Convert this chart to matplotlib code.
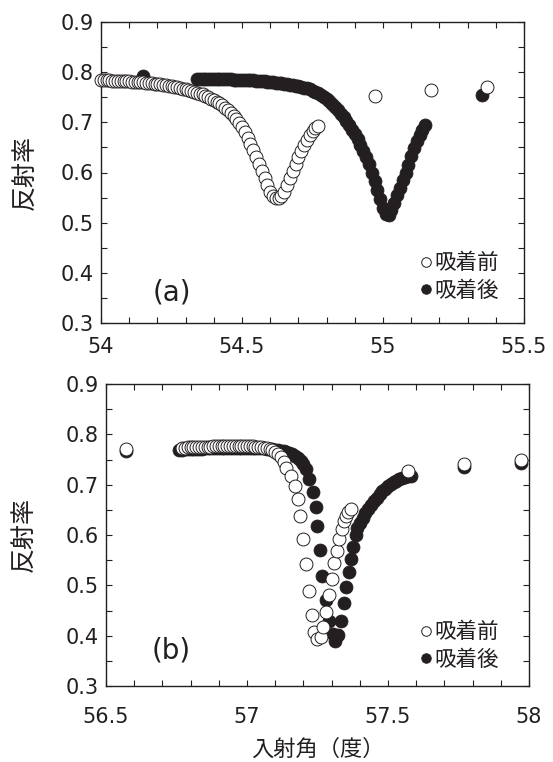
import matplotlib
matplotlib.use("Agg")
import matplotlib.pyplot as plt
from matplotlib.ticker import MultipleLocator

plt.rcParams['font.family'] = ['DejaVu Sans', 'Noto Sans CJK JP']

INK = '#231f20'

# ---------------- panel (a) data ----------------
a_before_x = [54.00, 54.01, 54.02, 54.03, 54.04, 54.05, 54.06, 54.07, 54.08, 54.09,
              54.10, 54.11, 54.12, 54.13, 54.14, 54.15, 54.16, 54.17, 54.18, 54.19,
              54.20, 54.21, 54.22, 54.23, 54.24, 54.25, 54.26, 54.27, 54.28, 54.29,
              54.30, 54.31, 54.32, 54.33, 54.34, 54.35, 54.36, 54.37, 54.38, 54.39,
              54.40, 54.41, 54.42, 54.43, 54.44, 54.45, 54.46, 54.47, 54.48, 54.49,
              54.50, 54.51, 54.52, 54.53, 54.54, 54.55, 54.56, 54.57, 54.58, 54.59,
              54.60, 54.61, 54.62, 54.63, 54.64, 54.65, 54.66, 54.67, 54.68, 54.69,
              54.70, 54.71, 54.72, 54.73, 54.74, 54.75, 54.76, 54.77,
              54.97, 55.17, 55.37]
a_before_y = [0.784, 0.784, 0.784, 0.784, 0.783, 0.783, 0.783, 0.783, 0.782, 0.782,
              0.782, 0.781, 0.781, 0.781, 0.780, 0.780, 0.779, 0.779, 0.778, 0.777,
              0.777, 0.776, 0.775, 0.774, 0.773, 0.772, 0.771, 0.770, 0.769, 0.767,
              0.766, 0.764, 0.762, 0.760, 0.758, 0.756, 0.756, 0.753, 0.750, 0.747,
              0.744, 0.741, 0.738, 0.734, 0.729, 0.724, 0.719, 0.713, 0.706, 0.698,
              0.690, 0.680, 0.669, 0.657, 0.644, 0.631, 0.617, 0.603, 0.589, 0.575,
              0.562, 0.553, 0.549, 0.549, 0.554, 0.562, 0.575, 0.589, 0.603, 0.617,
              0.630, 0.643, 0.655, 0.665, 0.674, 0.682, 0.688, 0.692,
              0.753, 0.765, 0.771]

a_after_x = [54.15,
             54.34, 54.35, 54.36, 54.37, 54.38, 54.39, 54.40, 54.41, 54.42, 54.43,
             54.44, 54.45, 54.46, 54.47, 54.48, 54.49, 54.50, 54.51, 54.52, 54.53,
             54.54, 54.55, 54.56, 54.57, 54.58, 54.59, 54.60, 54.61, 54.62, 54.63,
             54.64, 54.65, 54.66, 54.67, 54.68, 54.69, 54.70, 54.71, 54.72, 54.73,
             54.74, 54.75, 54.76, 54.77, 54.78, 54.79, 54.80, 54.81, 54.82, 54.83,
             54.84, 54.85, 54.86, 54.87, 54.88, 54.89, 54.90, 54.91, 54.92, 54.93,
             54.94, 54.95, 54.96, 54.97, 54.98, 54.99, 55.00, 55.01, 55.02, 55.03,
             55.04, 55.05, 55.06, 55.07, 55.08, 55.09, 55.10, 55.11, 55.12, 55.13,
             55.14, 55.15,
             55.35]
a_after_y = [0.792,
             0.787, 0.787, 0.787, 0.787, 0.787, 0.787, 0.787, 0.786, 0.786, 0.786,
             0.786, 0.786, 0.786, 0.785, 0.785, 0.785, 0.785, 0.784, 0.784, 0.784,
             0.784, 0.783, 0.783, 0.782, 0.782, 0.781, 0.781, 0.780, 0.779, 0.779,
             0.778, 0.777, 0.776, 0.775, 0.774, 0.773, 0.772, 0.771, 0.769, 0.768,
             0.766, 0.763, 0.761, 0.758, 0.755, 0.751, 0.747, 0.742, 0.736, 0.730,
             0.724, 0.717, 0.710, 0.702, 0.694, 0.685, 0.676, 0.666, 0.655, 0.643,
             0.631, 0.616, 0.600, 0.584, 0.566, 0.547, 0.530, 0.518, 0.516, 0.525,
             0.540, 0.555, 0.570, 0.585, 0.600, 0.615, 0.633, 0.648, 0.662, 0.674,
             0.685, 0.694,
             0.754]

# ---------------- panel (b) data ----------------
b_before_x = [56.57,
              56.77, 56.78, 56.79, 56.80, 56.81, 56.82, 56.83, 56.84, 56.85, 56.86,
              56.87, 56.88, 56.89, 56.90, 56.91, 56.92, 56.93, 56.94, 56.95, 56.96,
              56.97, 56.98, 56.99, 57.00, 57.01, 57.02, 57.03, 57.04, 57.05, 57.06,
              57.07, 57.08, 57.09, 57.10, 57.11, 57.12, 57.13,
              57.140, 57.155, 57.171, 57.180, 57.189, 57.199, 57.210, 57.220, 57.230,
              57.238, 57.249, 57.261, 57.270, 57.280, 57.290, 57.301, 57.309, 57.320,
              57.327, 57.336, 57.343, 57.350, 57.359, 57.370,
              57.57, 57.77, 57.97]
b_before_y = [0.771,
              0.773, 0.773, 0.774, 0.774, 0.774, 0.774, 0.775, 0.775, 0.775, 0.775,
              0.775, 0.776, 0.776, 0.776, 0.776, 0.776, 0.777, 0.777, 0.777, 0.777,
              0.777, 0.777, 0.777, 0.776, 0.776, 0.776, 0.775, 0.775, 0.774, 0.773,
              0.772, 0.770, 0.768, 0.765, 0.760, 0.754, 0.746,
              0.734, 0.718, 0.698, 0.672, 0.637, 0.592, 0.543, 0.489, 0.441,
              0.407, 0.393, 0.397, 0.418, 0.448, 0.480, 0.513, 0.545, 0.569,
              0.592, 0.612, 0.627, 0.638, 0.645, 0.651,
              0.728, 0.742, 0.750]

b_after_x = [56.57,
             56.76, 56.77, 56.78, 56.79, 56.80, 56.81, 56.82, 56.83, 56.84, 56.85,
             56.86, 56.87, 56.88, 56.89, 56.90, 56.91, 56.92, 56.93, 56.94, 56.95,
             56.96, 56.97, 56.98, 56.99, 57.00, 57.01, 57.02, 57.03, 57.04, 57.05,
             57.06, 57.07, 57.08, 57.09, 57.10, 57.11, 57.12, 57.13, 57.14, 57.15,
             57.16, 57.17, 57.18, 57.19, 57.20, 57.21, 57.22,
             57.235, 57.245, 57.250, 57.258, 57.267, 57.279, 57.292, 57.304, 57.312,
             57.324, 57.333, 57.344, 57.351, 57.360, 57.370, 57.377, 57.386,
             57.39, 57.40, 57.41, 57.42, 57.43, 57.44, 57.45, 57.46, 57.47, 57.48,
             57.49, 57.50, 57.51, 57.52, 57.53, 57.54, 57.55, 57.56, 57.57, 57.58,
             57.57, 57.77, 57.97]
b_after_y = [0.766,
             0.769, 0.769, 0.770, 0.770, 0.770, 0.771, 0.771, 0.771, 0.771, 0.772,
             0.772, 0.772, 0.772, 0.772, 0.773, 0.773, 0.773, 0.773, 0.773, 0.773,
             0.773, 0.773, 0.773, 0.773, 0.773, 0.773, 0.773, 0.773, 0.772, 0.772,
             0.772, 0.771, 0.771, 0.770, 0.769, 0.768, 0.767, 0.766, 0.764, 0.762,
             0.760, 0.757, 0.753, 0.748, 0.741, 0.731, 0.712,
             0.686, 0.656, 0.617, 0.570, 0.518, 0.470, 0.430, 0.403, 0.390,
             0.402, 0.430, 0.464, 0.496, 0.527, 0.553, 0.577, 0.600,
             0.614, 0.624, 0.634, 0.643, 0.652, 0.660, 0.667, 0.674, 0.681, 0.687,
             0.692, 0.697, 0.701, 0.705, 0.708, 0.711, 0.713, 0.715, 0.717, 0.718,
             0.722, 0.736, 0.744]

label_before = '吸着前'
label_after = '吸着後'
ylabel = '反射率'
xlabel = '入射角（度）'

a_xticks = [54, 54.5, 55, 55.5]
a_xticklabels = ['54', '54.5', '55', '55.5']
b_xticks = [56.5, 57, 57.5, 58]
b_xticklabels = ['56.5', '57', '57.5', '58']
yticks = [0.3, 0.4, 0.5, 0.6, 0.7, 0.8, 0.9]
yticklabels = ['0.3', '0.4', '0.5', '0.6', '0.7', '0.8', '0.9']

fig = plt.figure(figsize=(5.53, 7.62), dpi=100)
W, H = 553, 762


def px_axes(l, t, r, b):
    return fig.add_axes([l / W, 1 - b / H, (r - l) / W, (b - t) / H])


ax1 = px_axes(101, 22, 524, 323)
ax2 = px_axes(106, 384, 529, 686)

MS = 9.3
cjk = ['Noto Sans CJK JP', 'DejaVu Sans']


def style(ax, xlim, xticks, xticklabels, xpad, ylpad):
    ax.set_xlim(*xlim)
    ax.set_ylim(0.3, 0.9)
    ax.set_xticks(xticks)
    ax.set_xticklabels(xticklabels)
    ax.set_yticks(yticks)
    ax.set_yticklabels(yticklabels)
    ax.xaxis.set_minor_locator(MultipleLocator(0.1))
    ax.yaxis.set_minor_locator(MultipleLocator(0.05))
    ax.tick_params(which='both', direction='in', top=True, right=True,
                   length=4.5, width=0.8, color=INK, labelcolor=INK,
                   labelsize=15)
    ax.tick_params(axis='x', which='major', pad=xpad)
    ax.tick_params(axis='y', which='major', pad=5)
    for s in ax.spines.values():
        s.set_linewidth(1.0)
        s.set_color(INK)
    ax.set_ylabel(ylabel, family=cjk, fontsize=18, color=INK, labelpad=ylpad)


def panel(ax, bx, by, ax_x, ay, tag, tagpos, legpos):
    h_after, = ax.plot(ax_x, ay, 'o', ms=MS, mfc=INK, mec=INK, mew=0.6,
                       label=label_after, clip_on=False, zorder=3)
    h_before, = ax.plot(bx, by, 'o', ms=MS, mfc='white', mec=INK, mew=0.7,
                        label=label_before, clip_on=False, zorder=4)
    ax.text(tagpos[0], tagpos[1], tag, transform=ax.transAxes, fontsize=20,
            color=INK, ha='center', va='center')
    leg = ax.legend([h_before, h_after], [label_before, label_after],
                    loc='center left', bbox_to_anchor=legpos, frameon=False,
                    prop={'family': cjk, 'size': 15.5}, markerscale=0.74,
                    handlelength=0.5, handletextpad=0.15, labelspacing=0.25,
                    borderpad=0, borderaxespad=0)
    for t in leg.get_texts():
        t.set_color(INK)


panel(ax1, a_before_x, a_before_y, a_after_x, a_after_y, '(a)',
      (0.168, 0.101), (0.756, 0.153))
style(ax1, (54, 55.5), a_xticks, a_xticklabels, 10, 16)

panel(ax2, b_before_x, b_before_y, b_after_x, b_after_y, '(b)',
      (0.154, 0.116), (0.744, 0.132))
style(ax2, (56.5, 58), b_xticks, b_xticklabels, 15, 20)
ax2.set_xlabel(xlabel, family=cjk, fontsize=16, color=INK, labelpad=8)

fig.savefig('out.png', dpi=100)
